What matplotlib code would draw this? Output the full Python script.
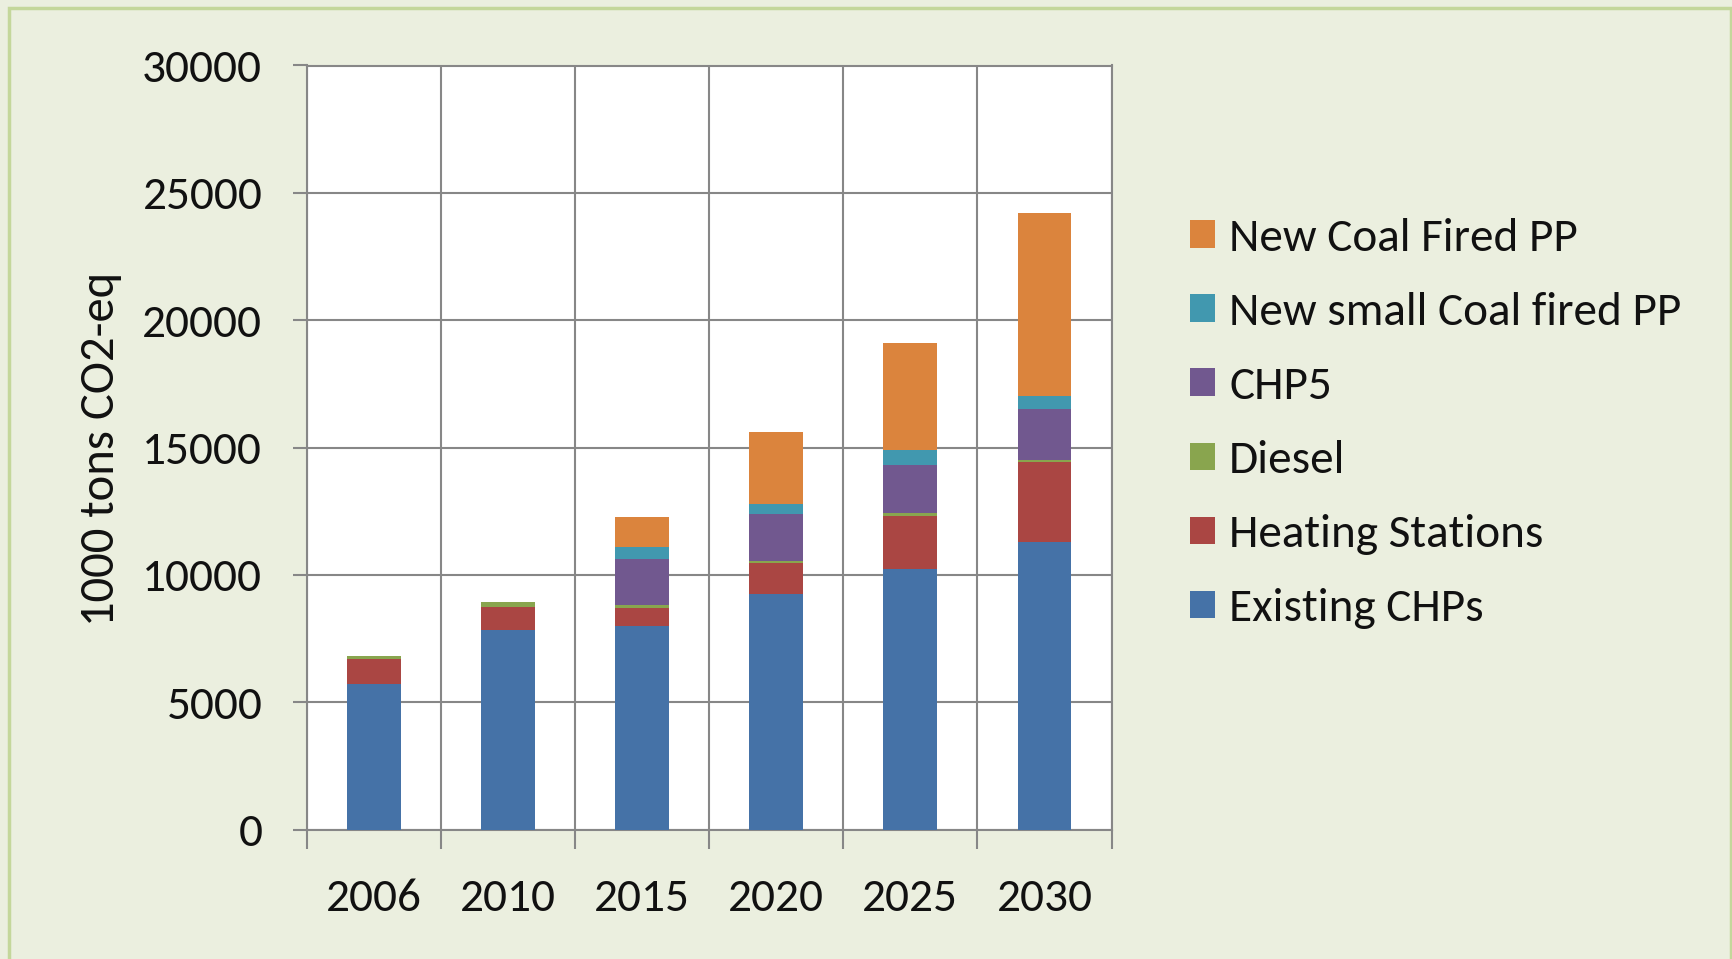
import matplotlib
matplotlib.use("Agg")
import matplotlib.pyplot as plt
import numpy as np
from matplotlib import font_manager
from matplotlib.patches import Rectangle

# Emissions from heat and power plants, 1000 tons CO2-eq
years = ["2006", "2010", "2015", "2020", "2025", "2030"]
existing_chps = [5700, 7850, 8000, 9250, 10250, 11300]
heating_stations = [1000, 900, 700, 1200, 2050, 3120]
diesel = [100, 200, 130, 100, 130, 90]
chp5 = [0, 0, 1800, 1850, 1880, 2020]
new_small_coal = [0, 0, 450, 400, 610, 510]
new_coal = [0, 0, 1200, 2820, 4190, 7170]

series_names = ["Existing CHPs", "Heating Stations", "Diesel", "CHP5",
                "New small Coal fired PP", "New Coal Fired PP"]
series_values = [existing_chps, heating_stations, diesel, chp5,
                 new_small_coal, new_coal]
series_colors = ["#4572A7", "#AA4643", "#89A54E", "#71588F", "#4198AF", "#DB843D"]

y_ticks = [0, 5000, 10000, 15000, 20000, 25000, 30000]
y_label = "1000 tons CO2-eq"

available = {f.name for f in font_manager.fontManager.ttflist}
family = next(f for f in ["Carlito", "Lato", "DejaVu Sans"] if f in available)
plt.rcParams["font.family"] = [family, "DejaVu Sans"]

W, H = 1732, 959
fig = plt.figure(figsize=(W / 100, H / 100), dpi=100)
fig.patch.set_facecolor("#EBEFDF")

# outer chart-area border
fig.patches.append(Rectangle((9 / W, -0.05), (1731 - 9) / W, 1.05 - 8 / H,
                             transform=fig.transFigure, fill=False,
                             edgecolor="#C4D79B", linewidth=2.5))

ax = fig.add_axes([306.7 / W, 1 - 829.6 / H, (1111.5 - 306.7) / W,
                   (829.6 - 65.5) / H])
ax.set_facecolor("white")

grid_color = "#878787"
x = np.arange(len(years))
bottom = np.zeros(len(years))
for name, vals, col in zip(series_names, series_values, series_colors):
    vals = np.array(vals, dtype=float)
    ax.bar(x, vals, width=0.4, bottom=bottom, color=col, label=name,
           linewidth=0, zorder=3)
    bottom += vals

ax.set_xlim(-0.5, len(years) - 0.5)
ax.set_ylim(0, 30000)
ax.set_yticks(y_ticks)
ax.set_yticklabels([str(t) for t in y_ticks])

# category boundaries carry the ticks and vertical gridlines
ax.set_xticks(np.arange(-0.5, len(years), 1.0))
ax.set_xticklabels([])
ax.set_xticks(x, minor=True)
ax.set_xticklabels(years, minor=True)

ax.grid(True, which="major", color=grid_color, linewidth=1.5, zorder=0)
ax.set_axisbelow(True)
for s in ax.spines.values():
    s.set_color(grid_color)
    s.set_linewidth(1.5)

ax.tick_params(axis="y", which="major", length=10, width=1.5, color=grid_color,
               labelsize=34, pad=22, labelcolor="#111111")
ax.tick_params(axis="x", which="major", length=14, width=1.5, color=grid_color,
               direction="out")
ax.tick_params(axis="x", which="minor", length=0, labelsize=34, pad=35,
               labelcolor="#111111")

fig.text(101 / W, 1 - 449 / H, y_label, rotation=90, ha="center", va="center",
         fontsize=35, color="#111111")

handles, labels = ax.get_legend_handles_labels()
leg = fig.legend(handles[::-1], labels[::-1], loc="upper left",
                 bbox_to_anchor=(1190 / W, 1 - 218 / H), frameon=False,
                 fontsize=34, handlelength=0.53, handleheight=0.53,
                 handletextpad=0.3, labelspacing=0.70, borderpad=0,
                 borderaxespad=0)
for t in leg.get_texts():
    t.set_color("#111111")

fig.savefig("out.png", dpi=100, facecolor=fig.get_facecolor())
